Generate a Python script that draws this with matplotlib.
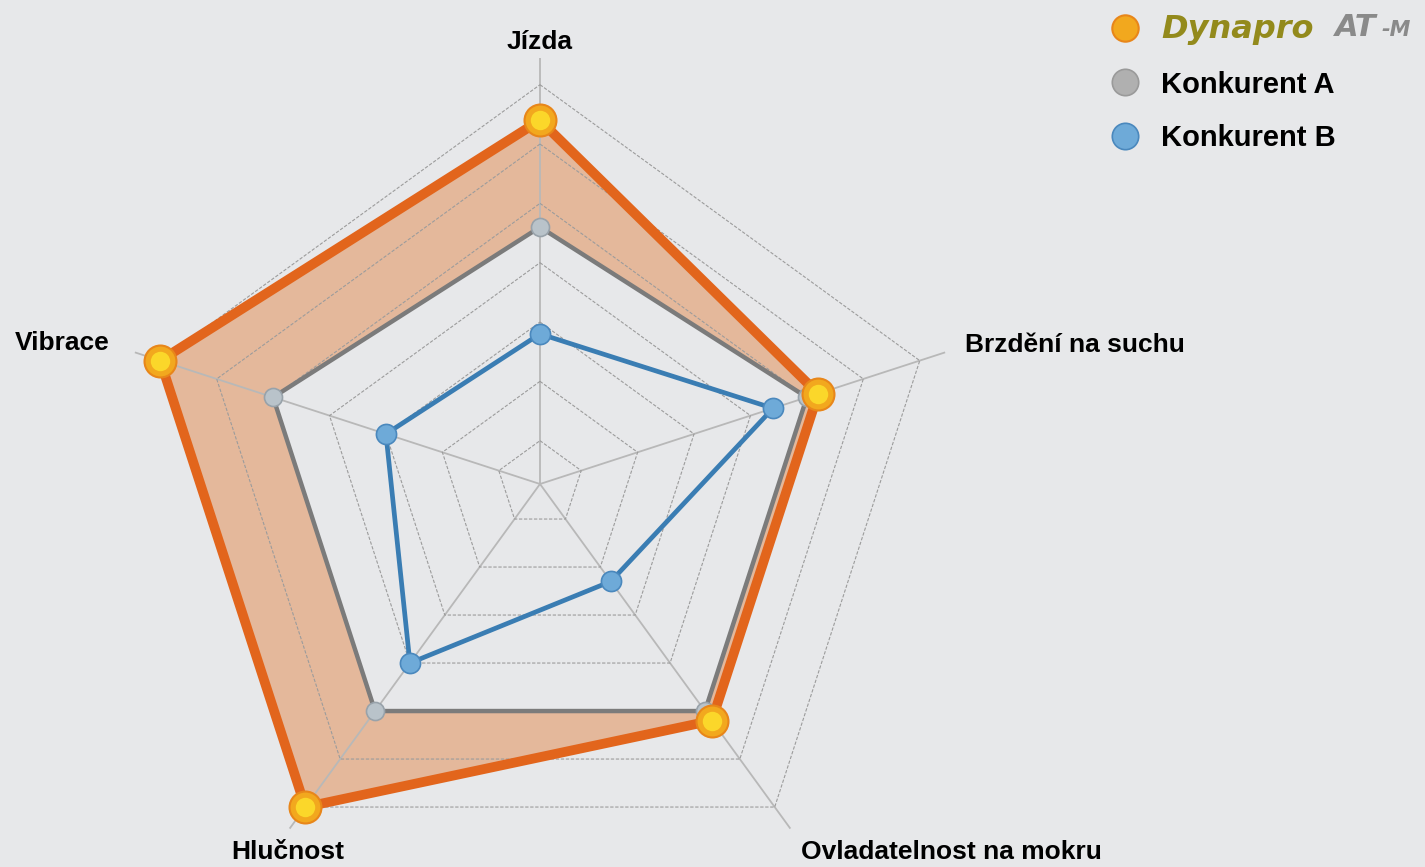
import numpy as np
import matplotlib
matplotlib.use('Agg')
import matplotlib.pyplot as plt
from matplotlib.lines import Line2D

# ---- data ----
categories = ['Jízda', 'Brzdění na suchu', 'Ovladatelnost na mokru', 'Hlučnost', 'Vibrace']
dynapro = [6.4, 5.2, 5.2, 7.0, 7.0]
konkurent_a = [4.6, 5.0, 5.0, 5.0, 5.0]
konkurent_b = [2.8, 4.4, 2.3, 4.0, 3.0]
series_names = ['Dynapro', 'Konkurent A', 'Konkurent B']
ring_levels = [1, 2, 3, 4, 5, 6, 7]

# ---- layout / style ----
W, H = 1425, 867
BG = '#e7e8ea'
plt.rcParams['font.family'] = ['Liberation Sans', 'DejaVu Sans']

fig = plt.figure(figsize=(W / 100, H / 100), dpi=100, facecolor=BG)
cx, cy = 540, 484
RMIN, RMAX = 0.27, 7.45
R_PX = 426
ax = fig.add_axes([(cx - R_PX) / W, (H - cy - R_PX) / H, 2 * R_PX / W, 2 * R_PX / H],
                  projection='polar')
ax.set_facecolor('none')
ax.set_theta_offset(np.pi / 2)
ax.set_theta_direction(-1)
ax.set_ylim(RMIN, RMAX)
ax.grid(False)
ax.set_xticks([])
ax.set_yticks([])
ax.spines['polar'].set_visible(False)

n = len(categories)
theta = np.linspace(0, 2 * np.pi, n, endpoint=False)
tc = np.append(theta, theta[0])


def close(v):
    v = list(v)
    return v + v[:1]


# fills
ax.fill(tc, close(dynapro), color='#e06a1c', alpha=0.38, lw=0, zorder=1)
ax.fill(tc, close(konkurent_a), color=BG, lw=0, zorder=2)

# grid: spokes and pentagon rings
for t in theta:
    ax.plot([t, t], [RMIN, RMAX], color='#b8b8b8', lw=1.3, zorder=3)
for k in ring_levels:
    ax.plot(tc, [k] * (n + 1), color='#9c9c9c', lw=0.8, ls=(0, (3, 1.5)), zorder=3)

# series
ax.plot(tc, close(konkurent_a), color='#7b7b7b', lw=3.2, zorder=4)
ax.plot(theta, konkurent_a, ls='none', marker='o', ms=13, mfc='#b9c3ca', mec='#98a2aa', mew=1.2, zorder=7)

ax.plot(tc, close(konkurent_b), color='#3a7db3', lw=3.4, zorder=5)
ax.plot(theta, konkurent_b, ls='none', marker='o', ms=14.5, mfc='#6eaad8', mec='#4a88bd', mew=1.2, zorder=7)

ax.plot(tc, close(dynapro), color='#e2651c', lw=7, zorder=6)
ax.plot(theta, dynapro, ls='none', marker='o', ms=23, mfc='#f2a81e', mec='#e8861a', mew=1.5, zorder=8)
ax.plot(theta, dynapro, ls='none', marker='o', ms=14, mfc='#fbd72a', mec='none', zorder=9)

# category labels
label_pos = [(540, 42, 'center'), (965, 345, 'left'), (951, 852, 'center'),
             (288, 852, 'center'), (110, 343, 'right')]
for name, (px, py, ha) in zip(categories, label_pos):
    fig.text(px / W, 1 - py / H, name, ha=ha, va='center', fontsize=19,
             fontweight='bold', color='#000000')

# legend
handles = [
    Line2D([], [], ls='none', marker='o', ms=19, mfc='#f2a81e', mec='#e8861a', mew=1.5),
    Line2D([], [], ls='none', marker='o', ms=19, mfc='#b0b0b0', mec='#9a9a9a', mew=1.2),
    Line2D([], [], ls='none', marker='o', ms=19, mfc='#6eaad8', mec='#4a88bd', mew=1.2),
]
leg = fig.legend(handles, series_names, loc='upper left',
                 bbox_to_anchor=(1110 / W, 1 - 14 / H), frameon=False, fontsize=21,
                 handlelength=1.0, handletextpad=0.75, labelspacing=0.88,
                 borderpad=0, borderaxespad=0)
for t in leg.get_texts():
    t.set_fontweight('bold')
logo = leg.get_texts()[0]
logo.set_color('#938a1c')
logo.set_fontstyle('italic')
logo.set_fontfamily('DejaVu Sans')
logo.set_fontweight('heavy')
logo.set_fontsize(23)

fig.text(1335 / W, 1 - 36 / H, 'AT', ha='left', va='baseline', fontsize=22,
         fontweight='bold', fontstyle='italic', family='DejaVu Sans', color='#8a8a8a')
fig.text(1381 / W, 1 - 36 / H, '-M', ha='left', va='baseline', fontsize=15,
         fontweight='bold', fontstyle='italic', family='DejaVu Sans', color='#8a8a8a')

fig.savefig('out.png', dpi=100, facecolor=BG)
